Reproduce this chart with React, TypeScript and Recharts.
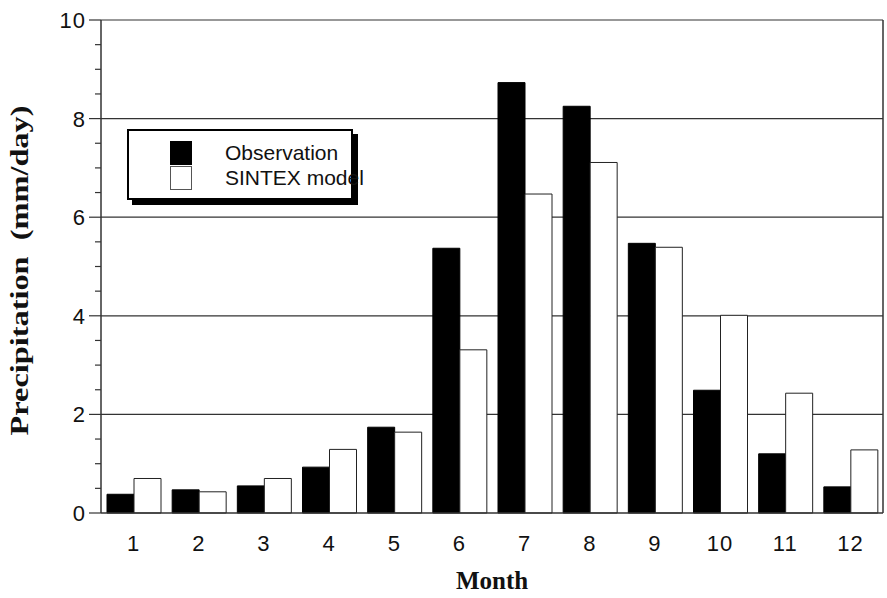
import React from "react";
import { Bar, BarChart, CartesianGrid, Label, XAxis, YAxis } from "recharts";

const months = ["1", "2", "3", "4", "5", "6", "7", "8", "9", "10", "11", "12"];
const observation = [0.38, 0.47, 0.55, 0.93, 1.74, 5.37, 8.73, 8.25, 5.47, 2.49, 1.2, 0.53];
const sintex = [0.7, 0.43, 0.7, 1.29, 1.64, 3.31, 6.47, 7.11, 5.39, 4.01, 2.43, 1.28];
const yTicks = [0, 0.5, 1, 1.5, 2, 2.5, 3, 3.5, 4, 4.5, 5, 5.5, 6, 6.5, 7, 7.5, 8, 8.5, 9, 9.5, 10];
const yLabels = [0, 2, 4, 6, 8, 10];
const gridValues = [2, 4, 6, 8, 10];

const series = [
  { key: "obs", name: "Observation", fill: "#000", stroke: "#000" },
  { key: "sintex", name: "SINTEX model", fill: "#fff", stroke: "#222" },
];

const rows = months.map((m, i) => ({ month: m, obs: observation[i], sintex: sintex[i] }));

const SANS = "'Liberation Sans', Arial, Helvetica, sans-serif";
const SERIF = "'Liberation Serif', 'Times New Roman', serif";
const AXIS = "#333";

function LeftTick({ x, y, payload }: any) {
  const v = payload.value;
  const major = yLabels.includes(v);
  return (
    <g>
      <line x1={x - (major ? 12 : 6)} x2={x} y1={y} y2={y} stroke={AXIS} strokeWidth={1.2} />
      {major && (
        <text x={x - 15} y={y} dy="0.36em" textAnchor="end" fontSize={22} letterSpacing={1} fontFamily={SANS} fill="#111">
          {v}
        </text>
      )}
    </g>
  );
}

function RightTick({ x, y }: any) {
  return <line x1={x} x2={x + 6} y1={y} y2={y} stroke={AXIS} strokeWidth={1.2} />;
}

// framed key with a hard drop shadow, sitting over the upper-left of the plot
function LegendBox() {
  return (
    <div
      style={{
        position: "absolute",
        left: 127,
        top: 129,
        width: 222,
        height: 67,
        border: "2px solid #000",
        background: "#fff",
        boxShadow: "5px 5px 0 #000",
        fontFamily: SANS,
        fontSize: 21,
        color: "#111",
        whiteSpace: "nowrap",
      }}
    >
      {series.map((s, i) => (
        <div key={s.key} style={{ position: "absolute", left: 41, top: 10 + i * 25, display: "flex", alignItems: "center" }}>
          <span
            style={{
              display: "inline-block",
              width: 22,
              height: 24,
              boxSizing: "border-box",
              background: s.fill,
              border: `1px solid ${s.stroke === "#000" ? "#000" : "#555"}`,
            }}
          />
          <span style={{ marginLeft: 33, lineHeight: "24px" }}>{s.name}</span>
        </div>
      ))}
    </div>
  );
}

export default function App() {
  return (
    <div style={{ position: "absolute", left: 0, top: 0, width: 887, height: 598, background: "#fff" }}>
      <BarChart
        width={887}
        height={598}
        data={rows}
        margin={{ top: 20, right: 0, left: 0, bottom: 0 }}
        barCategoryGap={6}
        barGap={0}
      >
        <CartesianGrid vertical={false} horizontalValues={gridValues} stroke={AXIS} strokeWidth={1.2} yAxisId="left" />
        <XAxis
          dataKey="month"
          height={85}
          tickLine={false}
          tickSize={0}
          tickMargin={22}
          axisLine={{ stroke: AXIS, strokeWidth: 1.5 }}
          tick={{ fontSize: 22, fontFamily: SANS, fill: "#111", letterSpacing: 1 }}
          interval={0}
        >
          <Label
            value="Month"
            position="insideBottom"
            offset={9}
            style={{ fontFamily: SERIF, fontWeight: "bold", fontSize: 25, fill: "#111" }}
          />
        </XAxis>
        <YAxis
          yAxisId="left"
          width={101}
          domain={[0, 10]}
          ticks={yTicks}
          interval={0}
          tickSize={0}
          tickMargin={0}
          tickLine={false}
          axisLine={{ stroke: AXIS, strokeWidth: 1.5 }}
          tick={<LeftTick />}
        >
          <Label
            content={({ viewBox }: any) => (
              <text
                x={0}
                y={0}
                transform={`translate(${viewBox.x + 28}, ${viewBox.y + viewBox.height / 2 + 4}) rotate(-90)`}
                textAnchor="middle"
                fontFamily={SERIF}
                fontWeight="bold"
                fontSize={25}
                fill="#111"
                textLength={330}
                lengthAdjust="spacingAndGlyphs"
                style={{ whiteSpace: "pre" }}
              >
                {"Precipitation  (mm/day)"}
              </text>
            )}
          />
        </YAxis>
        <YAxis
          yAxisId="right"
          orientation="right"
          width={4}
          domain={[0, 10]}
          ticks={yTicks}
          interval={0}
          tickSize={0}
          tickMargin={0}
          tickLine={false}
          axisLine={{ stroke: AXIS, strokeWidth: 1.5 }}
          tick={<RightTick />}
        />
        {series.map((s) => (
          <Bar
            key={s.key}
            dataKey={s.key}
            name={s.name}
            yAxisId="left"
            fill={s.fill}
            stroke={s.stroke}
            strokeWidth={1}
            isAnimationActive={false}
          />
        ))}
      </BarChart>
      <LegendBox />
    </div>
  );
}
